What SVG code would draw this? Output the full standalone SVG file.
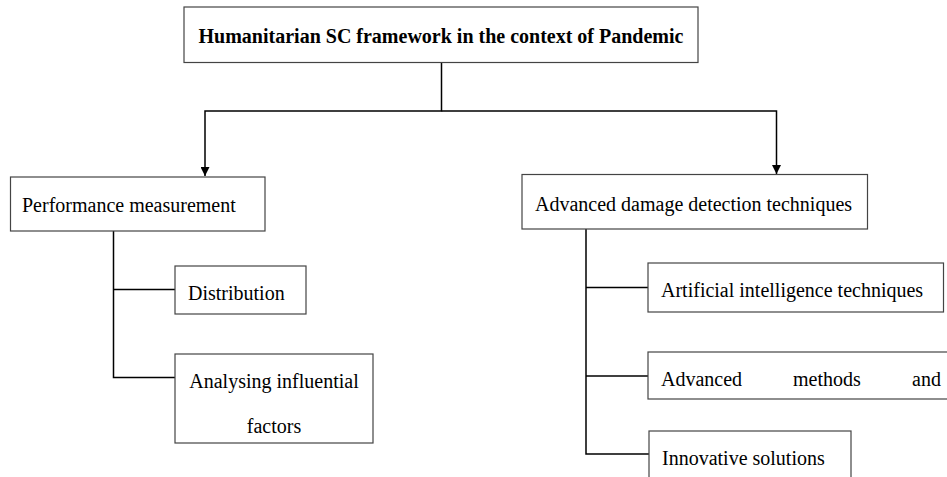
<svg xmlns="http://www.w3.org/2000/svg" width="947" height="477" viewBox="0 0 947 477">
  <style>
    .box { fill: #ffffff; stroke: #444444; stroke-width: 1.2; }
    .lbl { font-family: "Liberation Serif", "Times New Roman", serif; font-size: 20px; fill: #000000; }
    .title { font-weight: bold; }
    .link { fill: none; stroke: #000000; stroke-width: 1.5; }
  </style>
  <defs>
    <marker id="arrow" viewBox="0 0 10 10" refX="10" refY="5" markerWidth="9" markerHeight="9" markerUnits="userSpaceOnUse" orient="auto">
      <path d="M0,0 L10,5 L0,10 Z" fill="#000000"/>
    </marker>
  </defs>

  <rect width="947" height="477" fill="#ffffff"/>

  <g id="connectors">
    <!-- root to the two branches -->
    <path class="link" d="M441.5,62.5 V111 H205 V176" marker-end="url(#arrow)"/>
    <path class="link" d="M441.5,111 H776.5 V174" marker-end="url(#arrow)"/>
    <!-- performance measurement children -->
    <path class="link" d="M113.5,231 V377.5 H175"/>
    <path class="link" d="M113.5,289.5 H175"/>
    <!-- damage detection children -->
    <path class="link" d="M586,229 V454 H649"/>
    <path class="link" d="M586,287.5 H648"/>
    <path class="link" d="M586,376 H648"/>
  </g>

  <g id="root">
    <rect class="box" x="184" y="7" width="514" height="55.5"/>
    <text class="lbl title" x="441" y="42.5" text-anchor="middle">Humanitarian SC framework in the context of Pandemic</text>
  </g>

  <g id="performance">
    <rect class="box" x="10.5" y="177" width="254.5" height="54"/>
    <text class="lbl" x="22" y="212">Performance measurement</text>
  </g>

  <g id="distribution">
    <rect class="box" x="175" y="266" width="131" height="48"/>
    <text class="lbl" x="188" y="300">Distribution</text>
  </g>

  <g id="influential-factors">
    <rect class="box" x="175" y="354" width="198" height="89"/>
    <text class="lbl" x="274" y="388" text-anchor="middle">Analysing influential</text>
    <text class="lbl" x="274" y="433" text-anchor="middle">factors</text>
  </g>

  <g id="damage-detection">
    <rect class="box" x="522" y="174.5" width="345.5" height="54.5"/>
    <text class="lbl" x="535" y="211">Advanced damage detection techniques</text>
  </g>

  <g id="ai-techniques">
    <rect class="box" x="648" y="263" width="295.5" height="49"/>
    <text class="lbl" x="661" y="297">Artificial intelligence techniques</text>
  </g>

  <g id="advanced-methods">
    <rect class="box" x="648" y="352" width="310" height="47"/>
    <text class="lbl" x="661" y="386">Advanced</text>
    <text class="lbl" x="793" y="386">methods</text>
    <text class="lbl" x="912" y="386">and</text>
  </g>

  <g id="innovative-solutions">
    <rect class="box" x="649" y="431" width="202" height="60"/>
    <text class="lbl" x="662" y="465">Innovative solutions</text>
  </g>
</svg>
